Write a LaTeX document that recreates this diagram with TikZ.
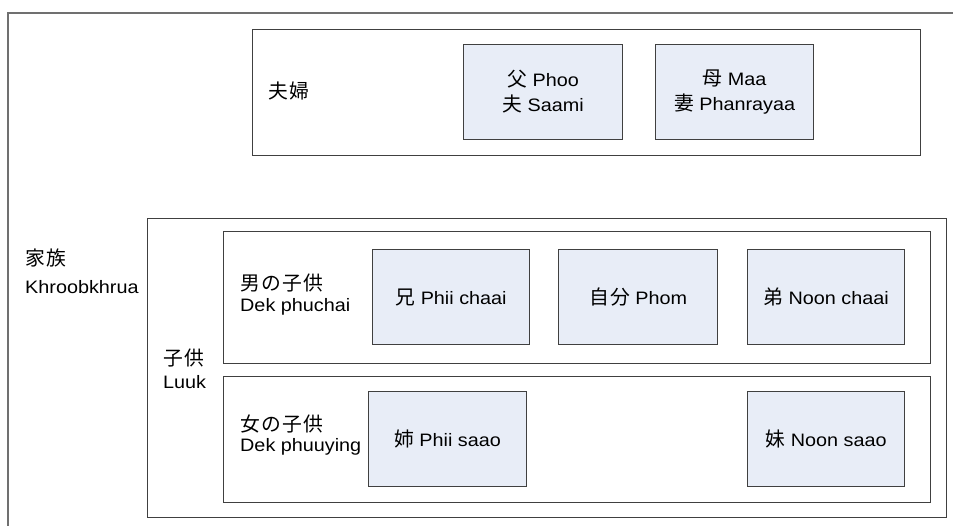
\documentclass[tikz,border=0pt]{standalone}
\usepackage{fontspec}
\setmainfont{Liberation Sans}[FakeStretch=1.1]
\newfontfamily\cjk{Noto Sans CJK JP}[Scale=1.1,LetterSpace=6]
\newcommand{\jp}[1]{{\cjk #1}}
\definecolor{boxfill}{RGB}{232,237,247}
\definecolor{edge}{RGB}{64,64,64}
\definecolor{framecol}{RGB}{112,112,112}
\begin{document}
\begin{tikzpicture}[x=1pt,y=-1pt,font=\fontsize{18}{25}\selectfont,
  panel/.style={draw=edge,line width=1.1pt,anchor=north west,inner sep=0pt},
  item/.style={panel,fill=boxfill,align=center,minimum height=95pt},
  lbl/.style={anchor=base west,inner sep=0pt}]
\useasboundingbox (0,0) rectangle (953,525);
\coordinate (fbl) at (8,530);
\coordinate (ftl) at (8,13);
\coordinate (ftr) at (960,13);
\draw[framecol,line width=1.6pt] (fbl) -- (ftl) -- (ftr);
% containers
\node[panel,minimum width=668pt,minimum height=126pt] (couple) at (252,29) {};
\node[panel,minimum width=799pt,minimum height=299pt] (children) at (147,218) {};
\node[panel,minimum width=707pt,minimum height=132pt] (boys) at (223,231) {};
\node[panel,minimum width=707pt,minimum height=126pt] (girls) at (223,376) {};
% members
\node[item,minimum width=159pt] (father) at (463,44) {\jp{父}\ Phoo\\\jp{夫}\ Saami};
\node[item,minimum width=158pt] (mother) at (655,44) {\jp{母}\ Maa\\\jp{妻}\ Phanrayaa};
\node[item,minimum width=157pt] (ani) at (372,249) {\jp{兄}\ Phii chaai};
\node[item,minimum width=159pt] (self) at (558,249) {\jp{自分}\ Phom};
\node[item,minimum width=157pt] (otouto) at (747,249) {\jp{弟}\ Noon chaai};
\node[item,minimum width=158pt] (ane) at (368,391) {\jp{姉}\ Phii saao};
\node[item,minimum width=157pt] (imouto) at (747,391) {\jp{妹}\ Noon saao};
% labels
\node[lbl] (fuufu) at (268,98) {\jp{夫婦}};
\node[lbl] (kazoku) at (25,265) {\jp{家族}};
\node[lbl] (kazokuR) at (25,293) {Khroobkhrua};
\node[lbl] (kodomo) at (163,365) {\jp{子供}};
\node[lbl] (kodomoR) at (163,388) {Luuk};
\node[lbl] (otoko) at (240,290) {\jp{男の子供}};
\node[lbl] (otokoR) at (240,311) {Dek phuchai};
\node[lbl] (onna) at (240,431) {\jp{女の子供}};
\node[lbl] (onnaR) at (240,451) {Dek phuuying};
\end{tikzpicture}
\end{document}
